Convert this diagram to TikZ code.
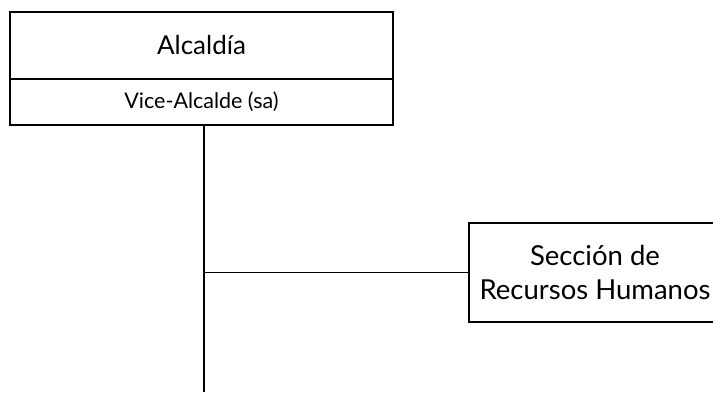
\documentclass[tikz,border=0pt]{standalone}
\usepackage{fontspec}
\setmainfont{Lato}
\usepackage{tikz}

\tikzset{
  orgbox/.style={draw, line width=1.2pt, rectangle, align=center, inner sep=0pt},
}

\begin{document}
\begin{tikzpicture}[x=1pt,y=-1pt]
		\useasboundingbox (0,0) rectangle (713,392);

		\node[orgbox, minimum width=383pt, minimum height=67pt, font=\fontsize{26}{30}\selectfont] (alcaldia) at (201.5,45.5) {Alcald\'ia};
		\node[orgbox, minimum width=383pt, minimum height=46pt, font=\fontsize{21.5}{26}\selectfont] (vice) at (201.5,102) {Vice-Alcalde (sa)};
		\node[orgbox, minimum width=252pt, minimum height=99pt, font=\fontsize{27.5}{34}\selectfont] (rrhh) at (595,272.5) {Secci\'on de\\Recursos Humanos};

		\coordinate (fin) at (203.5,392);
		\coordinate (top) at (203.5,125);
		\coordinate (rama) at (top |- rrhh.west);

		\draw[line width=2pt] (top) -- (fin);
		\draw[line width=1pt] (rama) -- (rrhh.west);
	\end{tikzpicture}
\end{document}
